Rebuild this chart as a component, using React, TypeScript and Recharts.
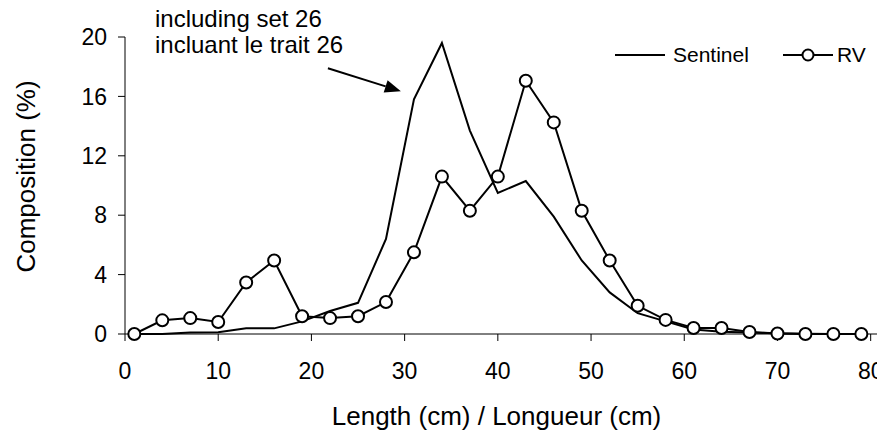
import React from "react";
import {
  LineChart,
  Line,
  XAxis,
  YAxis,
  ReferenceLine,
} from "recharts";

const lengths = [1, 4, 7, 10, 13, 16, 19, 22, 25, 28, 31, 34, 37, 40, 43, 46, 49, 52, 55, 58, 61, 64, 67, 70, 73, 76, 79];
const sentinel = [0, 0, 0.1, 0.12, 0.38, 0.38, 0.85, 1.55, 2.1, 6.4, 15.8, 19.6, 13.7, 9.5, 10.3, 7.9, 4.95, 2.8, 1.4, 0.85, 0.3, 0.15, 0.1, 0.05, 0.02, 0, 0];
const rv = [0, 0.92, 1.07, 0.81, 3.47, 4.95, 1.2, 1.07, 1.2, 2.15, 5.5, 10.6, 8.3, 10.6, 17.05, 14.25, 8.3, 4.95, 1.9, 0.95, 0.4, 0.4, 0.13, 0.03, 0, 0, 0];

const xTicks = [0, 10, 20, 30, 40, 50, 60, 70, 80];
const yTicks = [0, 4, 8, 12, 16, 20];

// arrow pointing at the sentinel peak (data coords)
const arrowFrom = { x: 21.77, y: 17.9 };
const arrowTo = { x: 29.6, y: 16.35 };

const data = lengths.map((len, i) => ({ len, sentinel: sentinel[i], rv: rv[i] }));

const FONT = "'Liberation Sans', Arial, sans-serif";

const Arrow = (p: any) => {
  const { x1, y1, x2, y2 } = p;
  const ang = Math.atan2(y2 - y1, x2 - x1);
  const len = 16;
  const half = 6.5;
  const bx = x2 - len * Math.cos(ang);
  const by = y2 - len * Math.sin(ang);
  const nx = -Math.sin(ang);
  const ny = Math.cos(ang);
  return (
    <g>
      <line x1={x1} y1={y1} x2={bx} y2={by} stroke="#000" strokeWidth={2} />
      <polygon
        points={`${x2},${y2} ${bx + nx * half},${by + ny * half} ${bx - nx * half},${by - ny * half}`}
        fill="#000"
      />
    </g>
  );
};

export default function App() {
  return (
    <div style={{ position: "relative", width: 877, height: 429, fontFamily: FONT }}>
      <LineChart
        width={877}
        height={429}
        data={data}
        margin={{ top: 29, right: 5, left: 0, bottom: 43 }}
      >
        <XAxis
          type="number"
          dataKey="len"
          domain={[0, 81]}
          ticks={xTicks}
          tickSize={7}
          tickMargin={22}
          height={60}
          axisLine={{ stroke: "#000" }}
          tickLine={{ stroke: "#000" }}
          tick={{ fill: "#000", fontSize: 23, fontFamily: FONT }}
          label={{
            content: (props: any) => {
              const vb = props.viewBox;
              return (
                <text
                  x={vb.x + vb.width / 2 - 6}
                  y={vb.y + 91}
                  textAnchor="middle"
                  fontSize={26}
                  fontFamily={FONT}
                  fill="#000"
                >
                  Length (cm) / Longueur (cm)
                </text>
              );
            },
          }}
        />
        <YAxis
          type="number"
          domain={[0, 20]}
          ticks={yTicks}
          width={117}
          tickSize={7}
          tickMargin={11}
          axisLine={{ stroke: "#000" }}
          tickLine={{ stroke: "#000" }}
          tick={{ fill: "#000", fontSize: 23, fontFamily: FONT }}
          label={{
            content: (props: any) => {
              const vb = props.viewBox;
              const cx = 27;
              const cy = vb.y + vb.height / 2 - 9;
              return (
                <text
                  x={cx}
                  y={cy}
                  transform={`rotate(-90, ${cx}, ${cy})`}
                  textAnchor="middle"
                  fontSize={26}
                  fontFamily={FONT}
                  fill="#000"
                >
                  Composition (%)
                </text>
              );
            },
          }}
        />
        <ReferenceLine
          segment={[arrowFrom, arrowTo]}
          ifOverflow="visible"
          shape={Arrow}
        />
        <Line
          type="linear"
          dataKey="sentinel"
          name="Sentinel"
          stroke="#000"
          strokeWidth={2}
          dot={false}
          activeDot={false}
          isAnimationActive={false}
        />
        <Line
          type="linear"
          dataKey="rv"
          name="RV"
          stroke="#000"
          strokeWidth={2}
          dot={{ r: 6, fill: "#fff", stroke: "#000", strokeWidth: 2 }}
          activeDot={false}
          isAnimationActive={false}
        />
      </LineChart>
      {/* annotation + legend overlay, in page coordinates */}
      <svg
        width={885}
        height={437}
        style={{ position: "absolute", left: -8, top: -8, pointerEvents: "none", overflow: "visible" }}
        fontFamily={FONT}
      >
        <text x={155} y={27} fill="#000" fontSize={24}>including set 26</text>
        <text x={155} y={53} fill="#000" fontSize={24}>incluant le trait 26</text>

        <line x1={615} y1={55} x2={665} y2={55} stroke="#000" strokeWidth={2} />
        <text x={673} y={62} fill="#000" fontSize={21}>Sentinel</text>
        <line x1={783} y1={55} x2={833} y2={55} stroke="#000" strokeWidth={2} />
        <circle cx={808} cy={55} r={5.5} fill="#fff" stroke="#000" strokeWidth={2} />
        <text x={837} y={62} fill="#000" fontSize={21}>RV</text>
      </svg>
    </div>
  );
}
